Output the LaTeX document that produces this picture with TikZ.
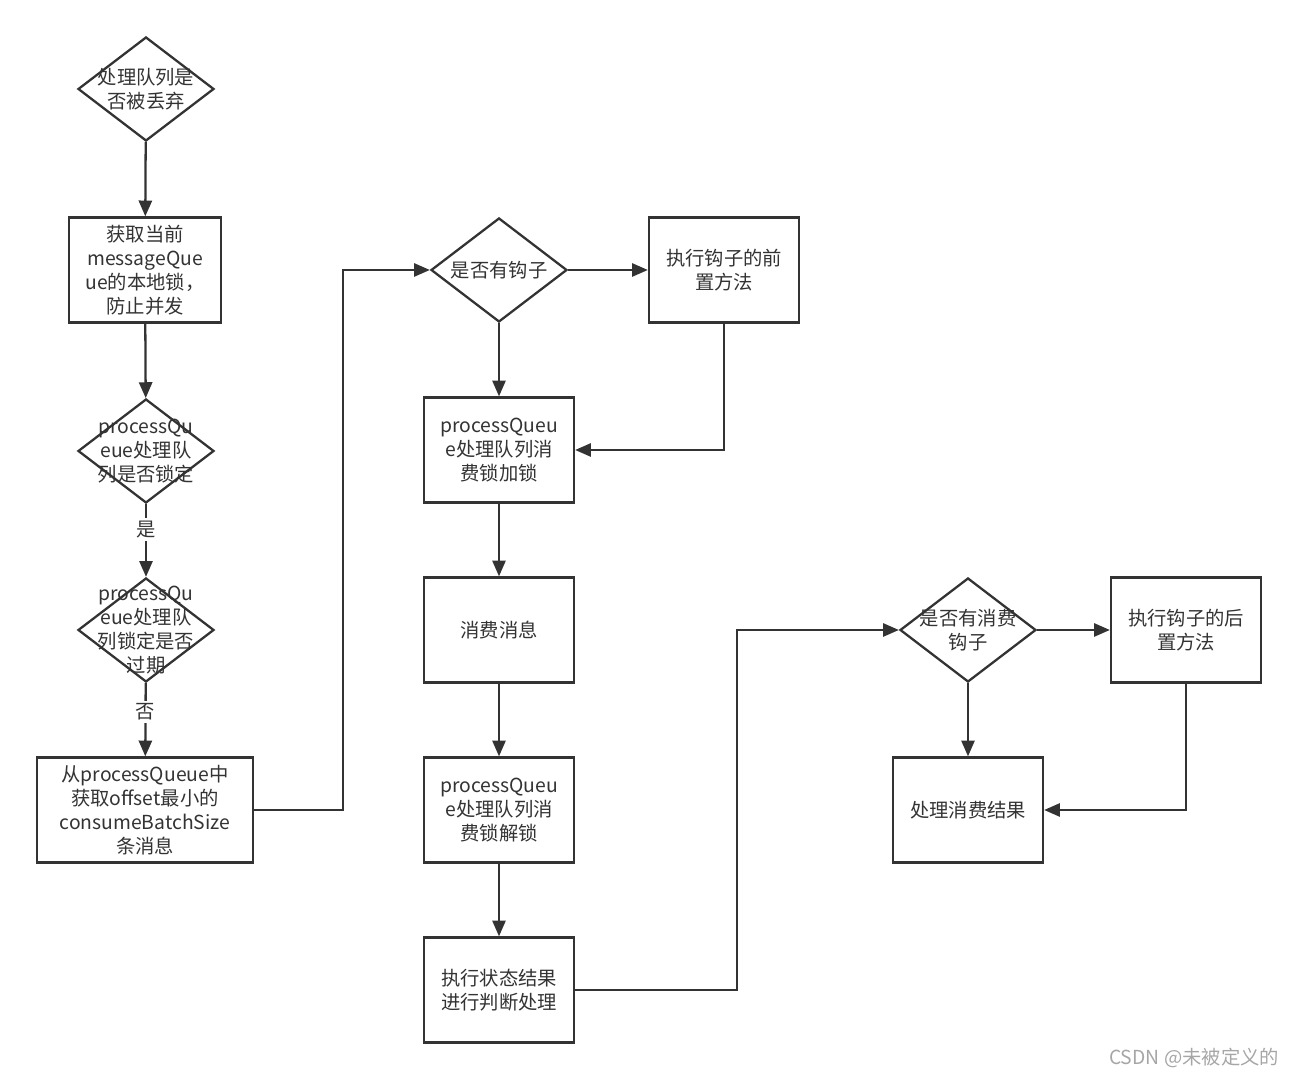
\documentclass[tikz,border=0pt]{standalone}
\usepackage{fontspec}
\setmainfont{Noto Sans CJK SC}
\usepackage{tikz}
\usepackage{tkz-euclide}
\usetikzlibrary{shapes.geometric,arrows.meta}
\definecolor{traco}{HTML}{333333}

\begin{document}
\begin{tikzpicture}[font=\fontsize{11}{13.6}\selectfont, color=traco, line width=1.3pt,
  caixa/.style={draw, rectangle, minimum width=3cm, minimum height=2.1cm, align=center, inner sep=0pt},
  losango/.style={draw, diamond, minimum width=2.72cm, minimum height=2.08cm, inner sep=0pt},
  seta/.style={-{Triangle[length=9pt,width=7.5pt]}},
  rotulo/.style={fill=white, inner sep=1.5pt}] %estilos das caixas, losangos e setas

\useasboundingbox (0,0) rectangle (25.98,21.6);

%O comando \tkzDefPoints define os centros dos blocos e os pontos de dobra das setas (x/y/NomedoPonto)
\tkzDefPoints{
2.92/19.82/A,
2.90/16.20/B,
2.92/12.58/C,
2.92/9.00/D,
2.90/5.40/E,
9.98/16.20/F,
14.48/16.20/G,
9.98/12.60/H,
9.98/9.00/I,
9.98/5.40/J,
9.98/1.80/K,
19.36/9.00/L,
23.72/9.00/M,
19.36/5.40/N,
6.86/16.20/P,
14.74/9.00/Q}

%Coluna da esquerda: verificacoes do processQueue
%---------------------------------------------------
\node[losango, label={[align=center]center:处理队列是\\否被丢弃}] (a) at (A) {};
\node[caixa, minimum width=3.04cm] (b) at (B) {获取当前\\messageQue\\ue的本地锁，\\防止并发};
\node[losango, label={[align=center]center:processQu\\eue处理队\\列是否锁定}] (c) at (C) {};
\node[losango, label={[align=center]center:processQu\\eue处理队\\列锁定是否\\过期}] (d) at (D) {};
\node[caixa, minimum width=4.32cm] (e) at (E) {从processQueue中\\获取offset最小的\\consumeBatchSize\\条消息};
%---------------------------------------------------

%Coluna do meio: consumo das mensagens
%---------------------------------------------------
\node[losango, label={center:是否有钩子}] (f) at (F) {};
\node[caixa] (g) at (G) {执行钩子的前\\置方法};
\node[caixa] (h) at (H) {processQueu\\e处理队列消\\费锁加锁};
\node[caixa] (i) at (I) {消费消息};
\node[caixa] (j) at (J) {processQueu\\e处理队列消\\费锁解锁};
\node[caixa] (k) at (K) {执行状态结果\\进行判断处理};
%---------------------------------------------------

%Coluna da direita: ganchos de consumo
%---------------------------------------------------
\node[losango, label={[align=center]center:是否有消费\\钩子}] (l) at (L) {};
\node[caixa] (m) at (M) {执行钩子的后\\置方法};
\node[caixa] (n) at (N) {处理消费结果};
%---------------------------------------------------

%Setas entre os blocos. Os rotulos "是" e "否" ficam sobre a seta com fundo branco.
%---------------------------------------------------
\draw[seta] (a) -- (b);
\draw[seta] (b) -- (c);
\draw[seta] (c) -- node[rotulo, pos=0.35] {是} (d);
\draw[seta] (d) -- node[rotulo, pos=0.39] {否} (e);
\draw[seta] (e.east) -| (P) -- (f.west);
\draw[seta] (f) -- (g);
\draw[seta] (f) -- (h);
\draw[seta] (g.south) |- (h.east);
\draw[seta] (h) -- (i);
\draw[seta] (i) -- (j);
\draw[seta] (j) -- (k);
\draw[seta] (k.east) -| (Q) -- (l.west);
\draw[seta] (l) -- (m);
\draw[seta] (l) -- (n);
\draw[seta] (m.south) |- (n.east);
%---------------------------------------------------

%Marca d'agua no canto inferior direito
\node[anchor=east, text=gray!70, font=\fontsize{11}{13}\selectfont] (w) at (25.72,0.44) {CSDN @未被定义的};

\end{tikzpicture}
\end{document}
